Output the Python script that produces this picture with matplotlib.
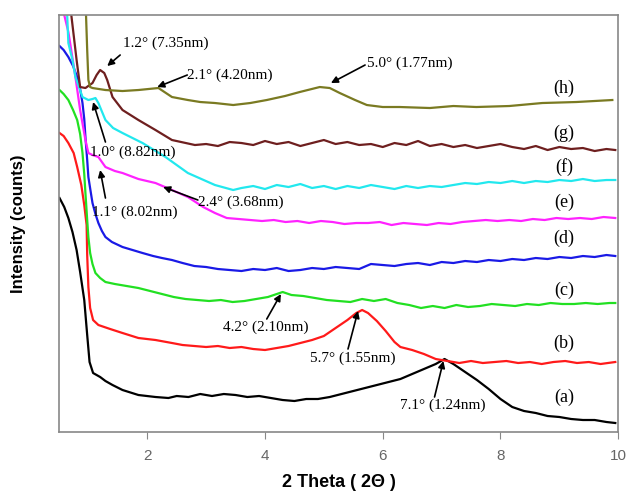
import matplotlib

matplotlib.use("Agg")
import matplotlib.pyplot as plt

# XRD patterns, intensity in arbitrary counts (curves offset vertically)
x_a = [0.51, 0.59, 0.66, 0.73, 0.80, 0.86, 0.93, 0.98, 1.02, 1.08, 1.20, 1.29, 1.41,
       1.58, 1.85, 2.14, 2.36, 2.5, 2.7, 2.9, 3.1, 3.3, 3.5, 3.7, 3.9, 4.1, 4.3,
       4.5, 4.7, 4.9, 5.1, 5.3, 5.5, 5.7, 5.9, 6.1, 6.3, 6.5, 6.7, 6.9, 7.05,
       7.2, 7.4, 7.6, 7.8, 8.0, 8.2, 8.4, 8.6, 8.8, 9.0, 9.2, 9.4, 9.6, 9.8, 9.95]
y_a = [234, 225, 214, 200, 182, 160, 132, 97, 70, 59, 55, 51, 47,
       42, 37, 35, 34, 36, 35, 38, 36, 38, 37, 35, 36, 34, 32,
       31, 33, 33, 35, 38, 41, 44, 47, 50, 53, 58, 63, 68, 73,
       68, 60, 52, 43, 33, 25, 21, 19, 16, 15, 13, 12, 12, 10, 9]

x_b = [0.51, 0.58, 0.66, 0.75, 0.81, 0.88, 0.93, 0.97, 0.98, 1.00, 1.03, 1.08, 1.17,
       1.37, 1.58, 1.85, 2.14, 2.42, 2.6, 2.8, 3.0, 3.2, 3.4, 3.6, 3.8, 4.0, 4.2,
       4.4, 4.6, 4.8, 5.0, 5.2, 5.4, 5.55, 5.65, 5.75, 5.9, 6.05, 6.2, 6.3, 6.5,
       6.7, 6.9, 7.1, 7.3, 7.5, 7.7, 7.9, 8.1, 8.3, 8.5, 8.7, 8.9, 9.1, 9.3, 9.5,
       9.7, 9.95]
y_b = [299, 296, 289, 279, 265, 247, 227, 207, 177, 145, 124, 112, 107,
       103, 99, 94, 92, 89, 87, 86, 85, 86, 84, 85, 83, 82, 84,
       86, 89, 92, 96, 104, 112, 119, 122, 119, 111, 101, 90, 85, 82,
       78, 73, 71, 69, 71, 69, 70, 71, 69, 70, 68, 70, 71, 69, 70,
       68, 70]

x_c = [0.51, 0.58, 0.66, 0.74, 0.81, 0.86, 0.90, 0.93, 0.95, 0.98, 1.00, 1.03, 1.07,
       1.12, 1.20, 1.29, 1.45, 1.65, 1.85, 2.05, 2.25, 2.45, 2.65, 2.85, 3.05, 3.25,
       3.45, 3.65, 3.85, 4.05, 4.2, 4.3, 4.45, 4.65, 4.85, 5.05, 5.25, 5.45, 5.65,
       5.85, 6.05, 6.25, 6.45, 6.65, 6.85, 7.05, 7.25, 7.45, 7.65, 7.85, 8.05, 8.25,
       8.45, 8.65, 8.85, 9.05, 9.25, 9.45, 9.65, 9.85, 9.95]
y_c = [342, 338, 332, 322, 312, 298, 279, 258, 239, 212, 195, 179, 168,
       159, 154, 150, 148, 146, 144, 141, 138, 135, 133, 132, 131, 132,
       130, 131, 133, 135, 138, 140, 137, 136, 134, 132, 131, 130, 133,
       131, 133, 129, 127, 124, 126, 124, 127, 125, 126, 128, 127, 126,
       128, 127, 129, 128, 128, 129, 128, 129, 129]

x_d = [0.51, 0.58, 0.66, 0.74, 0.81, 0.86, 0.90, 0.93, 0.95, 0.98, 1.00, 1.04, 1.07,
       1.12, 1.17, 1.23, 1.29, 1.40, 1.58, 1.75, 1.92, 2.1, 2.25, 2.42, 2.6, 2.8,
       3.0, 3.2, 3.4, 3.6, 3.8, 4.0, 4.2, 4.4, 4.6, 4.8, 5.0, 5.2, 5.4, 5.6, 5.8,
       6.0, 6.2, 6.4, 6.6, 6.8, 7.0, 7.2, 7.4, 7.6, 7.8, 8.0, 8.2, 8.4, 8.6, 8.8,
       9.0, 9.2, 9.4, 9.6, 9.8, 9.95]
y_d = [386, 382, 375, 366, 355, 343, 329, 313, 295, 272, 255, 240, 229,
       218, 209, 201, 195, 190, 185, 182, 179, 176, 174, 172, 169, 166,
       165, 163, 162, 161, 163, 162, 164, 161, 162, 164, 163, 165, 164, 163, 168,
       167, 166, 168, 169, 167, 170, 169, 171, 170, 172, 171, 173, 172, 174, 173,
       175, 174, 176, 175, 177, 176]

x_e = [0.59, 0.66, 0.69, 0.78, 0.86, 0.95, 1.00, 1.07, 1.17, 1.29, 1.45, 1.58, 1.85,
       2.14, 2.42, 2.69, 2.95, 3.15, 3.35, 3.55, 3.75, 3.95, 4.15, 4.35, 4.55, 4.75,
       4.95, 5.15, 5.35, 5.55, 5.75, 5.95, 6.15, 6.35, 6.55, 6.75, 6.95, 7.15, 7.35,
       7.55, 7.75, 7.95, 8.15, 8.35, 8.55, 8.75, 8.95, 9.15, 9.35, 9.55, 9.75, 9.95]
y_e = [417, 400, 389, 355, 322, 292, 279, 277, 275, 265, 261, 259, 253,
       249, 242, 235, 225, 219, 214, 213, 212, 211, 212, 210, 211, 209,
       211, 210, 208, 209, 209, 210, 207, 209, 208, 207, 209, 208, 210,
       211, 212, 211, 212, 211, 213, 212, 214, 213, 214, 213, 215, 214]

x_f = [0.64, 0.66, 0.73, 0.78, 0.90, 1.00, 1.07, 1.12, 1.17, 1.29, 1.42, 1.58, 1.92,
       2.31, 2.69, 3.15, 3.46, 3.6, 3.8, 4.0, 4.2, 4.4, 4.6, 4.8, 5.0, 5.2, 5.4,
       5.6, 5.8, 6.0, 6.2, 6.4, 6.6, 6.8, 7.0, 7.2, 7.4, 7.6, 7.8, 8.0, 8.2, 8.4,
       8.6, 8.8, 9.0, 9.2, 9.4, 9.6, 9.8, 9.95]
y_f = [417, 389, 372, 355, 335, 332, 333, 334, 329, 312, 304, 299, 289,
       275, 259, 247, 242, 244, 246, 243, 247, 245, 248, 244, 246, 243, 246,
       244, 247, 245, 243, 246, 244, 246, 245, 247, 249, 248, 250, 249, 251, 249,
       251, 250, 252, 251, 253, 251, 252, 252]

x_g = [0.71, 0.80, 0.86, 0.95, 1.07, 1.14, 1.20, 1.27, 1.32, 1.41, 1.58, 1.85, 2.14,
       2.42, 2.81, 3.0, 3.2, 3.4, 3.6, 3.8, 4.0, 4.2, 4.4, 4.6, 4.8, 5.0, 5.2, 5.4,
       5.6, 5.8, 6.0, 6.2, 6.4, 6.6, 6.8, 7.0, 7.2, 7.4, 7.6, 7.8, 8.0, 8.2, 8.4,
       8.6, 8.8, 9.0, 9.2, 9.4, 9.6, 9.8, 9.95]
y_g = [417, 372, 345, 344, 349, 357, 362, 359, 352, 335, 322, 312, 302,
       292, 287, 288, 286, 290, 289, 287, 291, 288, 290, 286, 289, 292, 288, 290,
       287, 288, 285, 289, 287, 291, 286, 288, 285, 287, 284, 286, 288, 285, 283,
       286, 282, 285, 283, 284, 281, 283, 282]

x_h = [0.96, 0.98, 1.00, 1.03, 1.07, 1.29, 1.58, 1.85, 2.19, 2.42, 2.69, 2.9, 3.15,
       3.46, 3.75, 4.03, 4.34, 4.59, 4.93, 5.10, 5.27, 5.53, 5.73, 6.0, 6.29, 6.8,
       7.2, 7.59, 8.15, 8.71, 9.29, 9.9]
y_h = [417, 382, 352, 345, 344, 342, 341, 342, 344, 335, 332, 330, 329,
       327, 329, 332, 336, 340, 345, 344, 339, 332, 327, 325, 325, 324,
       326, 325, 326, 329, 330, 332]

series = [
    (x_a, y_a, "black", "(a)", 35),
    (x_b, y_b, "#ff1a1a", "(b)", 89),
    (x_c, y_c, "#22e022", "(c)", 142),
    (x_d, y_d, "#1a1ae6", "(d)", 194),
    (x_e, y_e, "#ff22ff", "(e)", 230),
    (x_f, y_f, "#22e8ee", "(f)", 265),
    (x_g, y_g, "#6e1f1f", "(g)", 299),
    (x_h, y_h, "#7a7a22", "(h)", 344),
]

# (label, text x, text y, arrow from, arrow to)
peak_notes = [
    ("1.2° (7.35nm)", 1.58, 389, (1.54, 377), (1.32, 366)),
    ("2.1° (4.20nm)", 2.68, 357, (2.68, 357), (2.17, 345)),
    ("5.0° (1.77nm)", 5.73, 369, (5.70, 367), (5.12, 349)),
    ("1.0° (8.82nm)", 1.03, 280, (1.29, 290), (1.08, 330)),
    ("2.4° (3.68nm)", 2.86, 230, (2.86, 232), (2.27, 245)),
    ("1.1° (8.02nm)", 1.07, 220, (1.29, 234), (1.20, 262)),
    ("4.2° (2.10nm)", 3.29, 105, (4.03, 113), (4.27, 138)),
    ("5.7° (1.55nm)", 4.76, 74, (5.41, 83), (5.58, 121)),
    ("7.1° (1.24nm)", 6.29, 27, (6.88, 35), (7.03, 71)),
]

serif = "Liberation Serif"

fig = plt.figure(figsize=(6.27, 4.94), dpi=100)
ax = fig.add_axes([0.094, 0.1255, 0.892, 0.8441])

for xs, ys, col, lab, ly in series:
    ax.plot(xs, ys, color=col, lw=1.6, solid_joinstyle="round")
    ax.text(9.08, ly, lab, family=serif, fontsize=13, ha="center", va="center")

for lab, tx, ty, a0, a1 in peak_notes:
    ax.text(tx, ty, lab, family=serif, fontsize=11, ha="left", va="center")
    ax.annotate("", xy=a1, xytext=a0,
                arrowprops=dict(arrowstyle="-|>", color="black", lw=1.2,
                                mutation_scale=10, shrinkA=0, shrinkB=0))

ax.set_xlim(0.5, 10)
ax.set_ylim(0, 417)
ax.set_xticks([2, 4, 6, 8, 10])
ax.set_yticks([])
ax.tick_params(axis="x", direction="out", length=5, color="#888888",
               labelcolor="#666666", labelsize=11, pad=7)
for tl in ax.get_xticklabels():
    tl.set_family("Liberation Sans")
for sp in ax.spines.values():
    sp.set_color("#888888")
    sp.set_linewidth(1.2)

ax.set_xlabel("2 Theta ( 2Θ )", family="Liberation Sans", fontsize=13,
              fontweight="bold", labelpad=8)
ax.set_ylabel("Intensity (counts)", family="Liberation Sans", fontsize=12,
              fontweight="bold", labelpad=24)

fig.savefig("out.png", dpi=100)
